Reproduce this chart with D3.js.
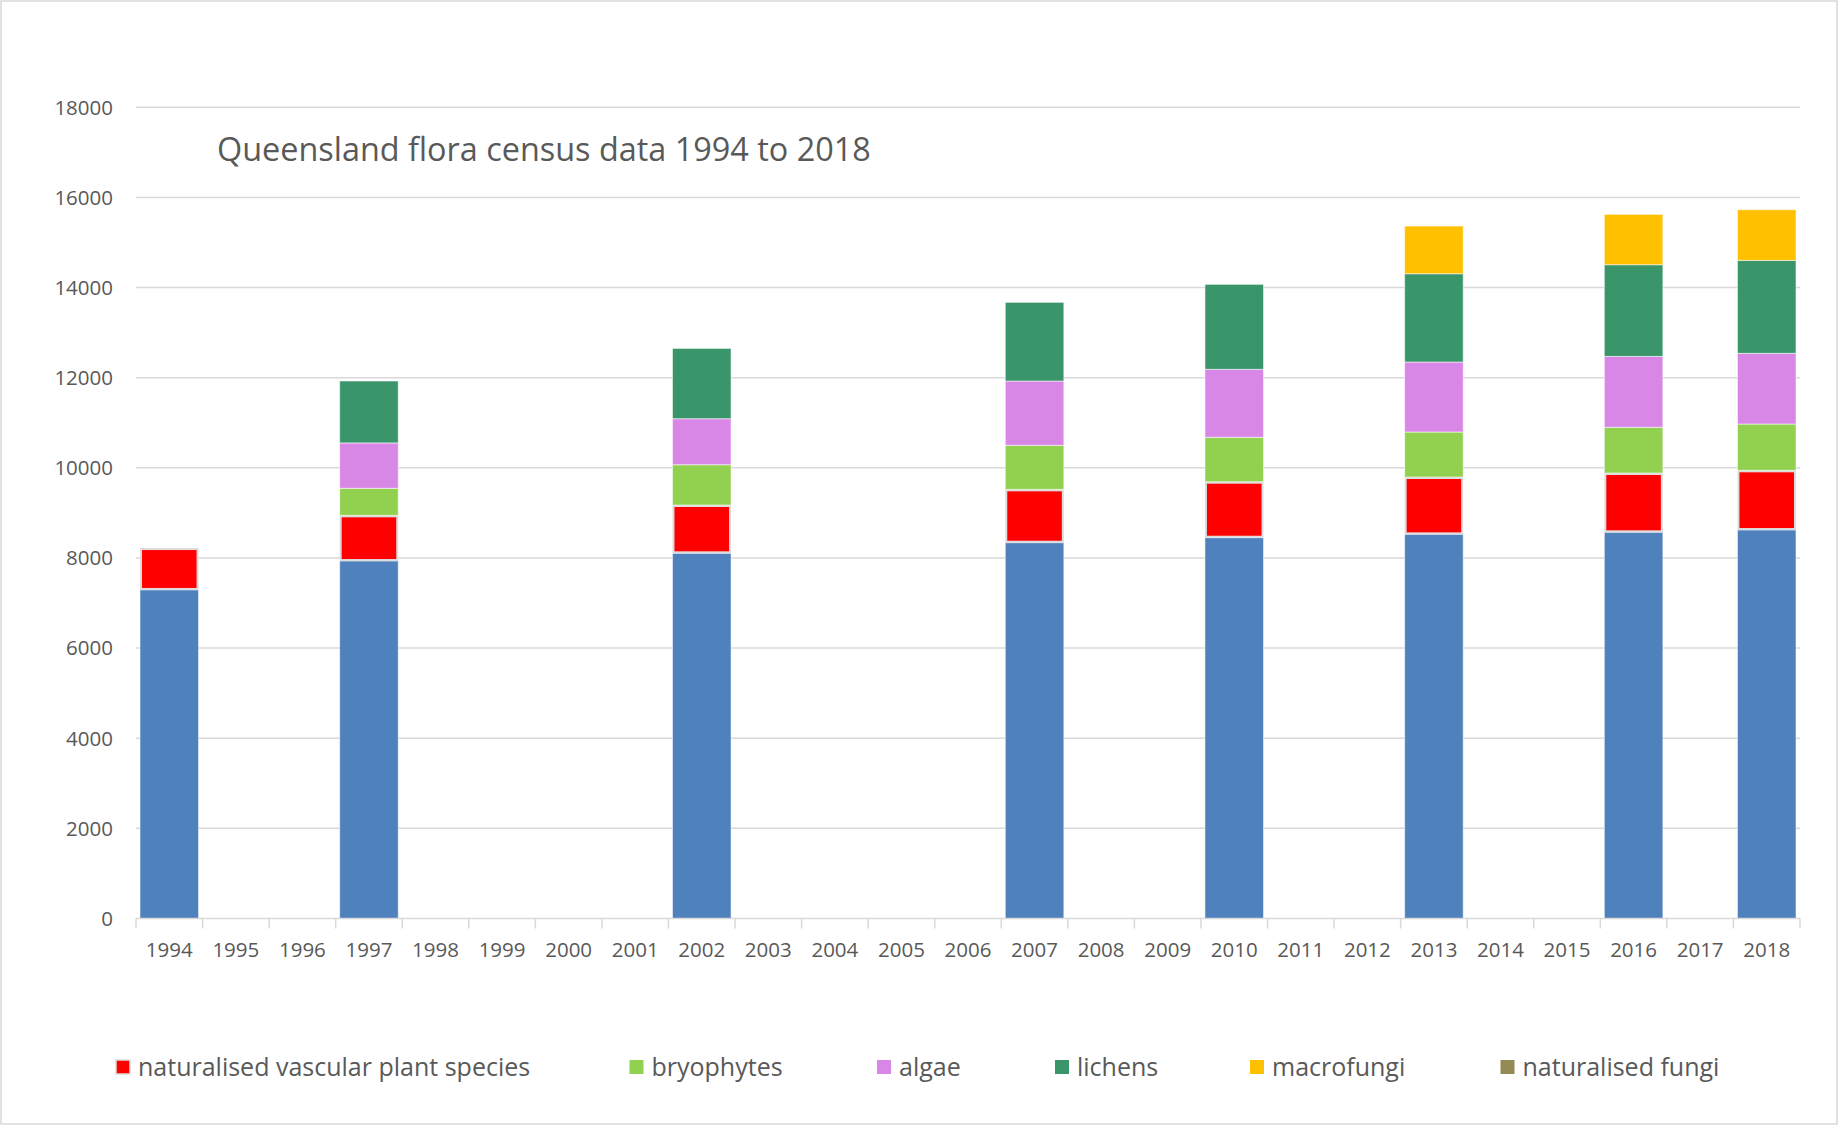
<!DOCTYPE html>
<html>
<head>
<meta charset="utf-8">
<script src="https://cdn.jsdelivr.net/npm/d3@7"></script>
<style>
  html, body { margin: 0; padding: 0; background: #fff; }
  svg { display: block; }
  text { font-family: "Open Sans", "Noto Sans", sans-serif; fill: #595959; }
</style>
</head>
<body>
<svg id="chart" width="1838" height="1125"></svg>
<script>
// ---- data ----
const years = ["1994","1995","1996","1997","1998","1999","2000","2001","2002","2003","2004","2005","2006",
               "2007","2008","2009","2010","2011","2012","2013","2014","2015","2016","2017","2018"];
const nativeVascular      = [7290,0,0,7932,0,0,0,0,8103,0,0,0,0,8338,0,0,8449,0,0,8524,0,0,8569,0,8620];
const naturalisedVascular = [ 930,0,0,1014,0,0,0,0,1072,0,0,0,0,1185,0,0,1243,0,0,1272,0,0,1316,0,1325];
const bryophytes          = [   0,0,0, 600,0,0,0,0, 894,0,0,0,0, 976,0,0, 985,0,0, 999,0,0,1014,0,1027];
const algae               = [   0,0,0,1007,0,0,0,0,1021,0,0,0,0,1427,0,0,1509,0,0,1553,0,0,1574,0,1569];
const lichens             = [   0,0,0,1374,0,0,0,0,1560,0,0,0,0,1746,0,0,1885,0,0,1959,0,0,2034,0,2063];
const macrofungi          = [   0,0,0,   0,0,0,0,0,   0,0,0,0,0,   0,0,0,   0,0,0,1058,0,0,1117,0,1123];
const naturalisedFungi    = [   0,0,0,   0,0,0,0,0,   0,0,0,0,0,   0,0,0,   0,0,0,   0,0,0,   0,0,   0];
const seriesNames = ["native vascular plant species","naturalised vascular plant species","bryophytes",
                     "algae","lichens","macrofungi","naturalised fungi"];
const seriesColors = ["#4f81bd","#ff0000","#92d050","#d987e6","#3b956b","#ffc000","#948a54"];
const legendSeries = ["naturalised vascular plant species","bryophytes","algae","lichens","macrofungi","naturalised fungi"];
const yTicks = [0,2000,4000,6000,8000,10000,12000,14000,16000,18000];
const titleText = "Queensland flora census data 1994 to 2018";

// ---- layout ----
const W = 1838, H = 1125;
const plot = { left: 136, right: 1800, top: 107.3, bottom: 918.5 };
const legendX = [116, 629.5, 877, 1055, 1250, 1500.5];
const legendY = 1067;

const svg = d3.select("#chart");

svg.append("rect").attr("x",1).attr("y",1).attr("width",W-2).attr("height",H-2)
  .attr("fill","#fff").attr("stroke","#d9d9d9").attr("stroke-width",1.5);

const allSeries = [nativeVascular, naturalisedVascular, bryophytes, algae, lichens, macrofungi, naturalisedFungi];
const table = years.map((y,i) => {
  const row = { year: y };
  seriesNames.forEach((n,k) => row[n] = allSeries[k][i]);
  return row;
});

const x = d3.scaleBand().domain(years).range([plot.left, plot.right]).paddingInner(0.12).paddingOuter(0.06);
const y = d3.scaleLinear().domain([0,18000]).range([plot.bottom, plot.top]);
const color = d3.scaleOrdinal().domain(seriesNames).range(seriesColors);

// gridlines
svg.append("g").selectAll("line").data(yTicks.filter(t => t > 0)).join("line")
  .attr("x1", plot.left).attr("x2", plot.right)
  .attr("y1", d => y(d)).attr("y2", d => y(d))
  .attr("stroke","#d9d9d9").attr("stroke-width",1.5);

// y labels
svg.append("g").selectAll("text").data(yTicks).join("text")
  .attr("x", 113).attr("y", d => y(d)).attr("dy","0.36em")
  .attr("text-anchor","end").attr("font-size", 20.5)
  .text(d => d);

// stacked bars
const stack = d3.stack().keys(seriesNames);
const layers = stack(table);
svg.append("g").selectAll("g").data(layers).join("g")
  .attr("fill", d => color(d.key))
  .each(function(layer){
    const isRed = layer.key === "naturalised vascular plant species";
    d3.select(this).selectAll("rect").data(layer.filter(d => d[1] - d[0] > 0)).join("rect")
      .attr("x", d => x(d.data.year) + (isRed ? 1 : 0))
      .attr("width", x.bandwidth() - (isRed ? 2 : 0))
      .attr("y", d => y(d[1]) + (isRed ? 1 : 0))
      .attr("height", d => y(d[0]) - y(d[1]) - (isRed ? 2 : 0))
      .attr("stroke", isRed ? "#dcdcdc" : "rgba(255,255,255,0.55)")
      .attr("stroke-width", isRed ? 2 : 1);
  });

// x axis
const xAxisG = svg.append("g");
xAxisG.append("line").attr("x1", plot.left).attr("x2", plot.right)
  .attr("y1", y(0)).attr("y2", y(0)).attr("stroke","#d9d9d9").attr("stroke-width",1.5);
const boundaries = years.map(yr => x(yr) - x.step()*x.paddingInner()/2).concat([plot.right]);
xAxisG.selectAll("line.tick").data(boundaries).join("line").attr("class","tick")
  .attr("x1", d => d).attr("x2", d => d)
  .attr("y1", y(0)).attr("y2", y(0) + 10)
  .attr("stroke","#d9d9d9").attr("stroke-width",1.5);
xAxisG.selectAll("text").data(years).join("text")
  .attr("x", d => x(d) + x.bandwidth()/2).attr("y", 950).attr("dy","0.36em")
  .attr("text-anchor","middle").attr("font-size", 20.5)
  .text(d => d);

// title
svg.append("text").attr("x", 217).attr("y", 149).attr("dy","0.36em")
  .attr("font-size", 32.4).text(titleText);

// legend
const lg = svg.append("g").selectAll("g").data(legendSeries).join("g")
  .attr("transform", (d,i) => `translate(${legendX[i]},${legendY})`);
lg.append("rect").attr("x",0).attr("y",-7).attr("width",14).attr("height",14)
  .attr("fill", d => color(d))
  .attr("stroke", d => d === "naturalised vascular plant species" ? "#dcdcdc" : "none")
  .attr("stroke-width", 1.5);
lg.append("text").attr("x", 22).attr("y", 0).attr("dy","0.36em")
  .attr("font-size", 25).text(d => d);
</script>
</body>
</html>
